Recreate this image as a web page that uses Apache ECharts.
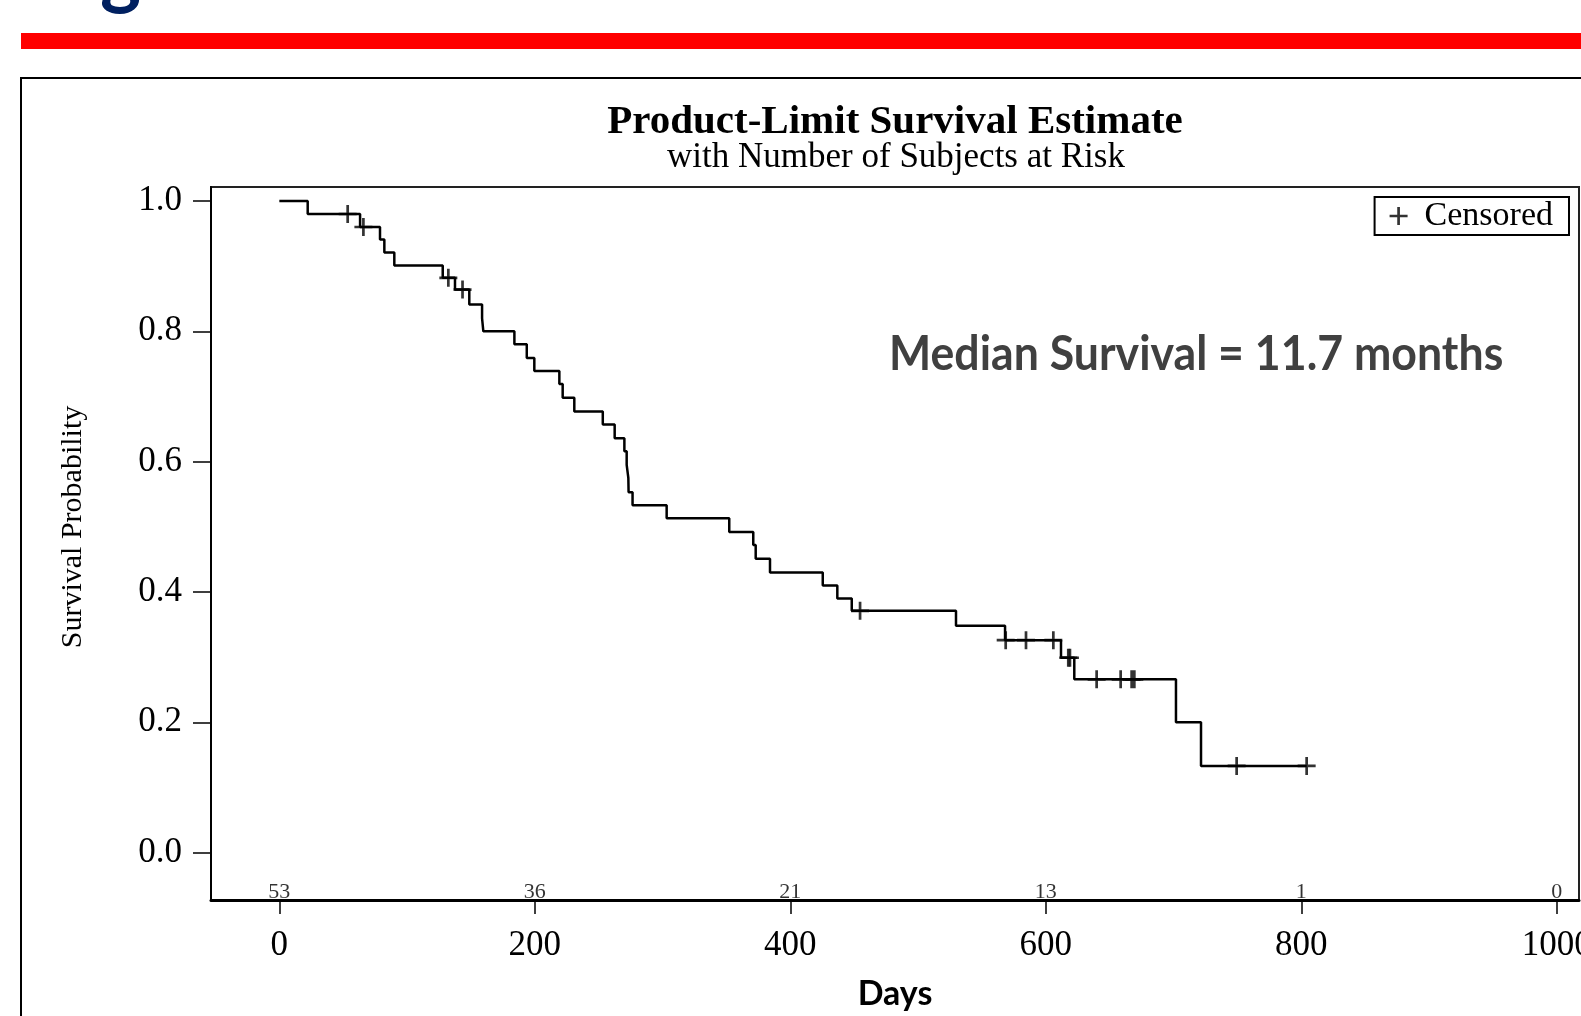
<!DOCTYPE html>
<html>
<head>
<meta charset="utf-8">
<title>Overall Survival</title>
<script src="https://cdn.jsdelivr.net/npm/echarts@6/dist/echarts.min.js"></script>
<style>
  html, body { margin: 0; padding: 0; background: #fff; overflow: hidden; }
  #chart { width: 1700px; height: 1016px; }
</style>
</head>
<body>
<div id="chart"></div>
<script>
// x axis ticks and number of subjects at risk under them
const tickDays = [0, 200, 400, 600, 800, 1000];
const atRisk = [53, 36, 21, 13, 1, 0];
const survTicks = [0, 0.2, 0.4, 0.6, 0.8, 1.0];

// Kaplan-Meier steps (day of event, survival after it)
const eventDays = [22.2, 63.2, 78.8, 82.2, 90.0, 127.9, 137.5, 148.7, 158.7, 159.7,
  184.0, 193.7, 199.6, 219.2, 221.8, 230.9, 253.2, 262.5, 270.1, 271.9,
  273.2, 273.4, 276.5, 303.2, 352.2, 371.0, 372.9, 384.1, 425.4, 436.8,
  448.1, 529.7, 568.1, 611.9, 622.3, 701.9, 721.5];
const eventSurv = [0.980, 0.960, 0.941, 0.921, 0.901, 0.882, 0.864, 0.841, 0.820, 0.800,
  0.780, 0.759, 0.739, 0.719, 0.698, 0.677, 0.657, 0.636, 0.616, 0.595,
  0.575, 0.553, 0.533, 0.513, 0.492, 0.472, 0.451, 0.430, 0.410, 0.390,
  0.371, 0.348, 0.326, 0.299, 0.266, 0.200, 0.133];

// censored subjects
const censorDays = [53.5, 65.8, 132.3, 143.4, 454.6, 568.6, 584.5, 605.9, 617.6, 618.9,
  639.8, 658.6, 667.2, 669.3, 749.4, 804.2];
const censorSurv = [0.980, 0.960, 0.882, 0.864, 0.371, 0.326, 0.326, 0.326, 0.299, 0.299,
  0.266, 0.266, 0.266, 0.266, 0.133, 0.133];

const serif = '"Liberation Serif", "Times New Roman", serif';
const sans = 'Lato, Calibri, sans-serif';
const plusPath = 'path://M6.8,0H9.2V6.8H16V9.2H9.2V16H6.8V9.2H0V6.8H6.8Z';
const riskRowY = -0.060; // where the at-risk numbers sit, inside the plot

const curve = [[0, 1]];
eventDays.forEach((d, i) => curve.push([d, eventSurv[i]]));
// curve runs on to the last censored subject
curve.push([censorDays[censorDays.length - 1], eventSurv[eventSurv.length - 1]]);

const censored = censorDays.map((d, i) => [d, censorSurv[i]]);
const riskRow = tickDays.map((d, i) => [d, riskRowY, atRisk[i]]);

const chart = echarts.init(document.getElementById('chart'));

chart.setOption({
  animation: false,
  title: [
    {
      text: 'Product-Limit Survival Estimate',
      left: 890, top: 97, textAlign: 'center',
      textStyle: { fontFamily: serif, fontWeight: 'bold', fontSize: 41, color: '#000' }
    },
    {
      text: 'with Number of Subjects at Risk',
      left: 891, top: 135, textAlign: 'center',
      textStyle: { fontFamily: serif, fontWeight: 'normal', fontSize: 35, color: '#000' }
    }
  ],
  legend: {
    data: [{ name: 'Censored', icon: plusPath }],
    right: 131, top: 197,
    borderColor: '#000', borderWidth: 2,
    padding: [2, 16, 2, 15],
    itemWidth: 18, itemHeight: 18,
    selectedMode: false,
    textStyle: { fontFamily: serif, fontSize: 34, color: '#000', padding: [0, 0, 0, 12] }
  },
  grid: {
    left: 211, right: 121, top: 187, bottom: 112.5,
    show: true, borderColor: '#222', borderWidth: 2
  },
  xAxis: {
    type: 'value', min: -53.5, max: 1017.4,
    name: 'Days', nameLocation: 'middle', nameGap: 77,
    nameTextStyle: { fontFamily: sans, fontWeight: 'bold', fontSize: 34, color: '#000' },
    axisLine: { onZero: false, lineStyle: { color: '#000', width: 3 } },
    axisTick: { customValues: tickDays, length: 14, lineStyle: { color: '#000', width: 1.5 } },
    axisLabel: {
      customValues: tickDays, formatter: v => String(v),
      fontFamily: serif, fontSize: 35, color: '#000', margin: 28
    },
    splitLine: { show: false }
  },
  yAxis: {
    type: 'value', min: -0.0727, max: 1.0214,
    axisLine: { show: true, onZero: false, lineStyle: { color: '#000', width: 2 } },
    axisTick: { show: true, customValues: survTicks, length: 18, lineStyle: { color: '#000', width: 1.5 } },
    axisLabel: {
      customValues: survTicks, formatter: v => v.toFixed(1),
      fontFamily: serif, fontSize: 35, color: '#000', margin: 29, padding: [6, 0, 0, 0]
    },
    splitLine: { show: false }
  },
  series: [
    {
      name: 'Survival', type: 'line', step: 'end', data: curve,
      symbol: 'none', lineStyle: { color: '#000', width: 2.5 }, z: 2
    },
    {
      name: 'Censored', type: 'scatter', data: censored,
      symbol: plusPath, symbolSize: 18, itemStyle: { color: '#000' }, z: 3
    },
    {
      name: 'At risk', type: 'scatter', data: riskRow,
      symbolSize: 1, itemStyle: { color: 'transparent' },
      label: {
        show: true, position: 'inside', formatter: p => p.value[2],
        fontFamily: serif, fontSize: 22, color: '#000'
      }
    }
  ],
  graphic: [
    { type: 'text', x: 36, y: 13, style: { text: 'Figure 1: Overall Survival', font: 'bold 78px Lato', fill: '#002060', verticalAlign: 'bottom' } },
    { type: 'rect', shape: { x: 21, y: 33, width: 1700, height: 16 }, style: { fill: '#ff0000' } },
    { type: 'rect', shape: { x: 21, y: 78, width: 1700, height: 1000 }, style: { fill: 'none', stroke: '#000', lineWidth: 2 } },
    {
      type: 'text', x: 73, y: 527, rotation: Math.PI / 2,
      style: { text: 'Survival Probability', font: '30px "Liberation Serif"', fill: '#000', align: 'center', verticalAlign: 'middle' }
    },
    {
      type: 'text', x: 889, y: 355, scaleX: 0.93,
      style: { text: 'Median Survival = 11.7 months', font: 'bold 48px Lato', fill: '#404040', align: 'left', verticalAlign: 'middle' }
    }
  ]
});
</script>
</body>
</html>
